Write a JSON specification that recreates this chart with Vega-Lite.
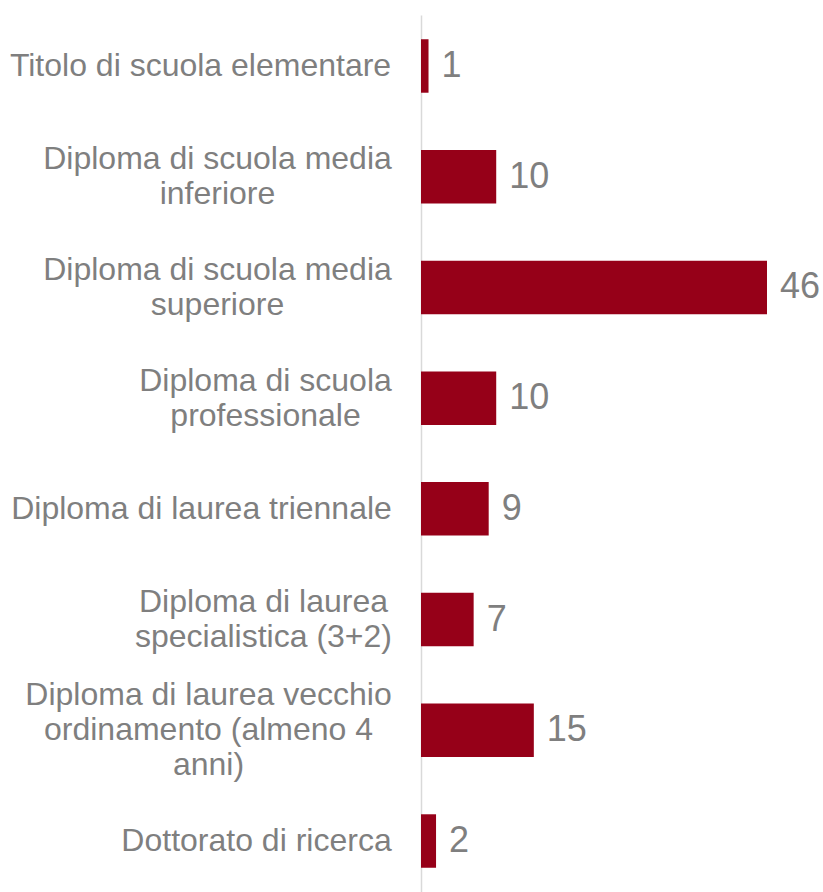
{
  "$schema": "https://vega.github.io/schema/vega-lite/v6.json",
  "width": 346,
  "height": 877,
  "autosize": {"type": "none"},
  "padding": {"left": 421, "top": 15, "right": 56, "bottom": 0},
  "background": "white",
  "config": {"view": {"stroke": null}, "font": "Liberation Sans"},
  "data": {
    "values": [
      {"livello": "Titolo di scuola elementare", "valore": 1},
      {"livello": "Diploma di scuola media\ninferiore", "valore": 10},
      {"livello": "Diploma di scuola media\nsuperiore", "valore": 46},
      {"livello": "Diploma di scuola\nprofessionale", "valore": 10},
      {"livello": "Diploma di laurea triennale", "valore": 9},
      {"livello": "Diploma di laurea\nspecialistica (3+2)", "valore": 7},
      {"livello": "Diploma di laurea vecchio\nordinamento (almeno 4\nanni)", "valore": 15},
      {"livello": "Dottorato di ricerca", "valore": 2}
    ]
  },
  "encoding": {
    "y": {
      "field": "livello",
      "type": "nominal",
      "sort": null,
      "scale": {"paddingInner": 0.517, "paddingOuter": 0.219},
      "axis": {
        "title": null,
        "ticks": false,
        "tickSize": 0,
        "domain": true,
        "domainColor": "#d9d9d9",
        "domainWidth": 1.5,
        "labelFont": "Liberation Sans",
        "labelFontSize": 32,
        "labelColor": "#7f7f7f",
        "labelAlign": "center",
        "labelBaseline": "middle",
        "labelLineHeight": 35,
        "labelLimit": 0,
        "labelOverlap": false,
        "labelExpr": "split(datum.value, '\\n')",
        "labelOffset": {
          "condition": [
            {"test": "indexof(datum.value, 'anni)') >= 0", "value": -35},
            {"test": "indexof(datum.value, '\\n') >= 0", "value": -17.5}
          ],
          "value": 0
        },
        "labelPadding": {
          "condition": [
            {"test": "indexof(datum.value, 'Titolo') === 0", "value": 221},
            {"test": "indexof(datum.value, 'Diploma di scuola media') === 0", "value": 204},
            {"test": "indexof(datum.value, 'Diploma di scuola\\nprof') === 0", "value": 156},
            {"test": "indexof(datum.value, 'Diploma di laurea triennale') === 0", "value": 220},
            {"test": "indexof(datum.value, 'Diploma di laurea\\nspec') === 0", "value": 158},
            {"test": "indexof(datum.value, 'Diploma di laurea vecchio') === 0", "value": 213}
          ],
          "value": 165
        }
      }
    }
  },
  "layer": [
    {
      "mark": {"type": "bar", "color": "#960018"},
      "encoding": {
        "x": {"field": "valore", "type": "quantitative", "scale": {"domain": [0, 46], "nice": false}, "axis": null}
      }
    },
    {
      "mark": {"type": "text", "align": "left", "baseline": "middle", "dx": 13, "fontSize": 36, "color": "#7f7f7f", "font": "Liberation Sans"},
      "encoding": {
        "x": {"field": "valore", "type": "quantitative"},
        "text": {"field": "valore", "type": "quantitative"}
      }
    }
  ]
}
